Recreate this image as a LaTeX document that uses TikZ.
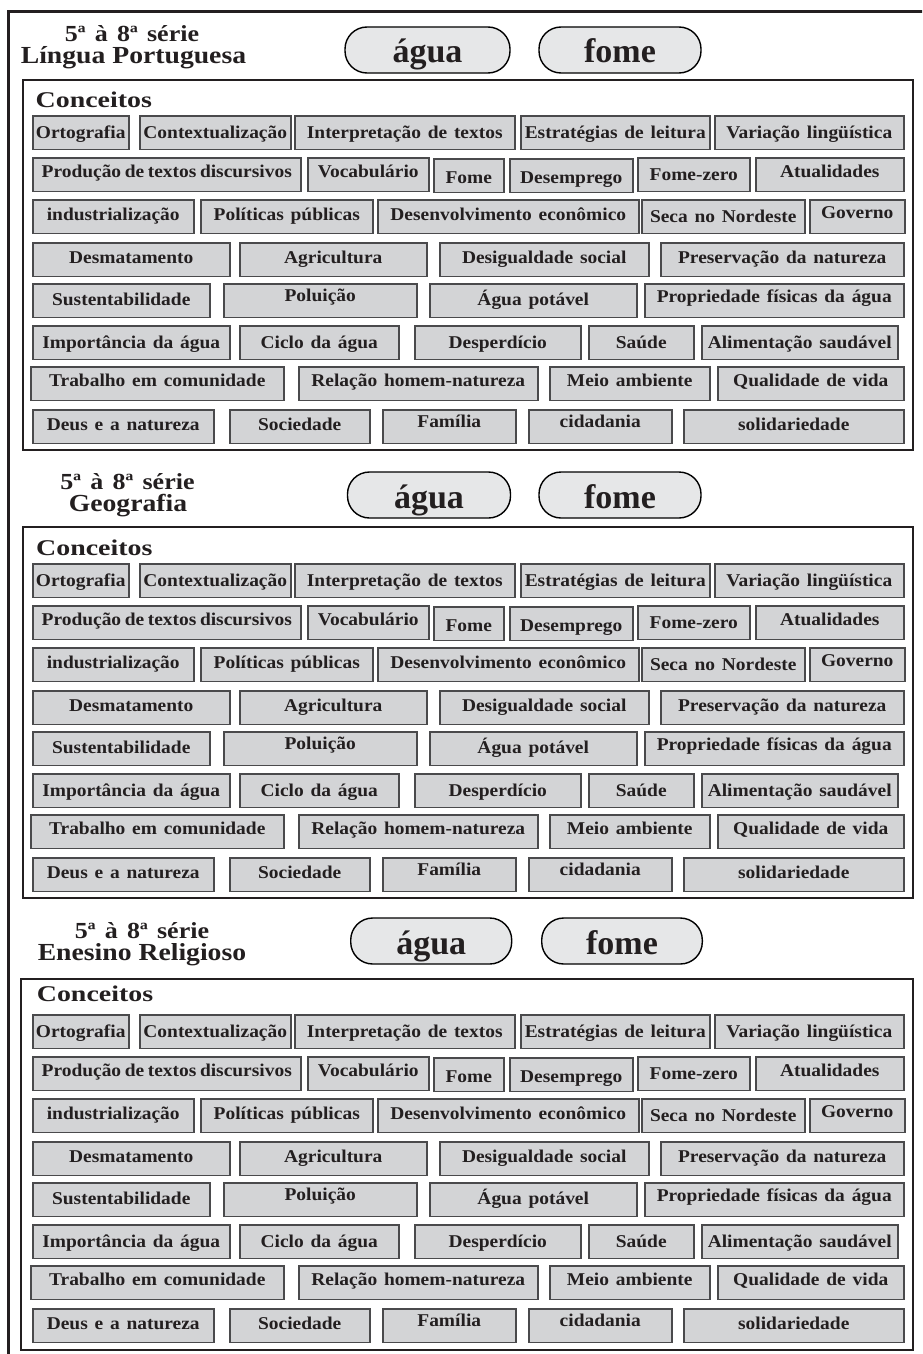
\documentclass[tikz,border=0pt]{standalone}
\usepackage{fontspec}
\setmainfont{Liberation Serif}
\newfontfamily\boxface{Liberation Serif}[FakeStretch=1.08, WordSpace=1.4]
\newfontfamily\headface{Liberation Serif}[FakeStretch=1.13]
\newfontfamily\capface{Liberation Serif}[FakeStretch=1.24]

\definecolor{ink}{HTML}{231F20}
\definecolor{boxfill}{HTML}{D3D4D6}
\definecolor{boxline}{HTML}{4A4A4C}
\definecolor{pillfill}{HTML}{E6E7E8}

% one concept box: name, left x, right x, top y (within the block), text raise, label
\newcommand\cbox[6]{%
  \pgfmathsetmacro\boxw{#3-#2}%
  \pgfmathsetmacro\boxy{#4+\gridoff}%
  \node[concept, anchor=north west, minimum width=\boxw pt] (\gridname-#1) at (#2,\boxy) {\raisebox{#5pt}{#6}};%
}

% the full grid of concepts, shifted down by #2
\newcommand\conceptgrid[2]{%
  \def\gridname{#1}\def\gridoff{#2}%
  % row 1
  \cbox{ortografia}{32}{128}{115}{0}{Ortografia}
  \cbox{contexto}{139}{290}{115}{0}{Contextualização}
  \cbox{interpretacao}{294}{514}{115}{0}{Interpretação de textos}
  \cbox{estrategias}{520}{709}{115}{0}{Estratégias de leitura}
  \cbox{variacao}{714}{903}{115}{0}{Variação lingüística}
  % row 2 (the long label is set with tight word gaps)
  \cbox{producao}{32}{300}{157}{3}{Produção\hspace{.2em}de\hspace{.2em}textos\hspace{.2em}discursivos}
  \cbox{vocabulario}{307}{428}{157}{3}{Vocabulário}
  \cbox{fome}{433}{503}{158}{-2}{Fome}
  \cbox{desemprego}{509}{632}{158}{-2}{Desemprego}
  \cbox{fomezero}{637}{749}{157}{0}{Fome-zero}
  \cbox{atualidades}{755}{903}{157}{3}{Atualidades}
  % row 3
  \cbox{industrializacao}{32}{193}{199}{1.5}{industrialização}
  \cbox{politicas}{200}{372}{199}{1.5}{Políticas públicas}
  \cbox{desenvolvimento}{377}{638}{199}{1.5}{Desenvolvimento econômico}
  \cbox{seca}{641}{804}{199}{0}{Seca no Nordeste}
  \cbox{governo}{809}{904}{199}{3.5}{Governo}
  % row 4
  \cbox{desmatamento}{32}{229}{242}{1.5}{Desmatamento}
  \cbox{agricultura}{239}{426}{242}{1.5}{Agricultura}
  \cbox{desigualdade}{439}{648}{242}{1.5}{Desigualdade social}
  \cbox{preservacao}{660}{903}{242}{1.5}{Preservação da natureza}
  % row 5
  \cbox{sustentabilidade}{32}{209}{283}{1}{Sustentabilidade}
  \cbox{poluicao}{223}{416}{283}{4.5}{Poluição}
  \cbox{aguapotavel}{429}{636}{283}{1}{Água potável}
  \cbox{propriedade}{644}{903}{283}{3.5}{Propriedade físicas da água}
  % row 6
  \cbox{importancia}{32}{229}{325}{0}{Importância da água}
  \cbox{ciclo}{239}{398}{325}{0}{Ciclo da água}
  \cbox{desperdicio}{414}{580}{325}{0}{Desperdício}
  \cbox{saude}{588}{693}{325}{0}{Saúde}
  \cbox{alimentacao}{701}{897}{325}{0}{Alimentação saudável}
  % row 7
  \cbox{trabalho}{30}{283}{366}{2.5}{Trabalho em comunidade}
  \cbox{relacao}{298}{537}{366}{2.5}{Relação homem-natureza}
  \cbox{meioambiente}{549}{709}{366}{2.5}{Meio ambiente}
  \cbox{qualidade}{717}{903}{366}{2.5}{Qualidade de vida}
  % row 8
  \cbox{deus}{32}{213}{409}{2}{Deus e a natureza}
  \cbox{sociedade}{229}{369}{409}{2}{Sociedade}
  \cbox{familia}{382}{515}{409}{5}{Família}
  \cbox{cidadania}{528}{671}{409}{5}{cidadania}
  \cbox{solidariedade}{683}{903}{409}{2}{solidariedade}
}

% first heading line, with the generous word gaps of the title
\newcommand\serie{5ª\hspace{.4em}à\hspace{.4em}8ª\hspace{.4em}série}

\begin{document}
\begin{tikzpicture}[x=1pt,y=-1pt,
  concept/.style={draw=boxline, line width=1.5pt, fill=boxfill, inner sep=0pt,
    minimum height=33.5pt, text height=11.9pt, text depth=0pt,
    font=\boxface\fontsize{18}{20}\selectfont\bfseries, text=ink},
  pill/.style={draw=black, line width=1.4pt, fill=pillfill, rounded corners=22pt,
    inner sep=0pt, minimum height=46pt, text height=30pt, text depth=4pt,
    font=\fontsize{34}{36}\selectfont\bfseries, text=ink},
  serieline/.style={font=\headface\fontsize{23}{25}\selectfont\bfseries, text=ink,
    inner sep=0pt, anchor=base},
  subjectline/.style={font=\headface\fontsize{24.5}{27}\selectfont\bfseries, text=ink,
    inner sep=0pt, anchor=base},
  caption/.style={font=\capface\fontsize{22.5}{25}\selectfont\bfseries, text=ink,
    inner sep=0pt, anchor=base west},
  frame/.style={draw=ink, line width=2pt},
]
\useasboundingbox (0,0) rectangle (922,1354);
\fill[white] (0,0) rectangle (922,1354);

% outer frame, running off the page on the right and at the bottom
\begin{scope}
  \clip (0,0) rectangle (922,1354);
  \draw[ink, line width=2.6pt] (8.5,1360) -- (8.5,11.5) -- (930,11.5);
\end{scope}

% ---- Língua Portuguesa ----
\node[serieline] (lp-serie) at (132,41.7) {\serie};
\node[subjectline] (lp-disc) at (133.5,63.3) {Língua Portuguesa};
\node[pill, minimum width=165pt] (lp-agua) at (427.5,50) {água};
\node[pill, minimum width=162pt] (lp-fome) at (620,50) {fome};
\draw[frame] (22.7,80) rectangle (913,450);
\node[caption] (lp-conceitos) at (35.5,107) {Conceitos};
\conceptgrid{lp}{0}

% ---- Geografia ----
\node[serieline] (geo-serie) at (127.5,489) {\serie};
\node[subjectline] (geo-disc) at (128,511.7) {Geografia};
\node[pill, minimum width=163pt] (geo-agua) at (429,495) {água};
\node[pill, minimum width=162pt] (geo-fome) at (620,495) {fome};
\draw[frame] (22.7,527) rectangle (913,898);
\node[caption] (geo-conceitos) at (36,555) {Conceitos};
\conceptgrid{geo}{448}

% ---- Ensino Religioso ----
\node[serieline] (er-serie) at (142,938) {\serie};
\node[subjectline] (er-disc) at (142,960) {Enesino Religioso};
\node[pill, minimum width=161pt] (er-agua) at (431.2,941) {água};
\node[pill, minimum width=160.6pt] (er-fome) at (622,941) {fome};
\draw[frame] (21,979) rectangle (913,1350);
\node[caption] (er-conceitos) at (36.7,1001.7) {Conceitos};
\conceptgrid{er}{899}

\end{tikzpicture}
\end{document}
